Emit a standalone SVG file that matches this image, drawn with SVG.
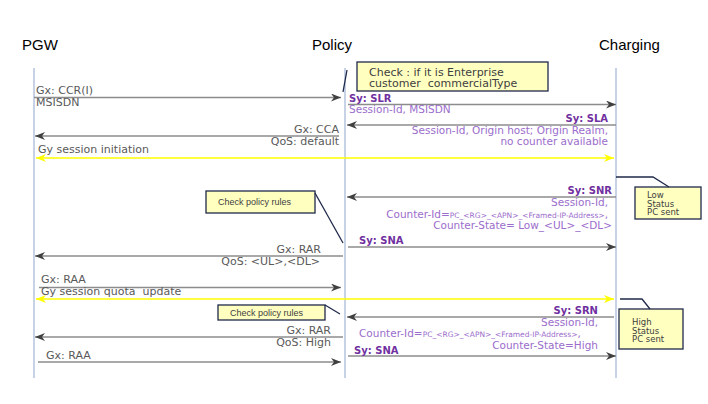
<svg xmlns="http://www.w3.org/2000/svg" width="708" height="404" viewBox="0 0 708 404">
<defs>
<marker id="ah" viewBox="0 0 10 8" refX="10" refY="4" markerWidth="10" markerHeight="8" markerUnits="userSpaceOnUse" orient="auto">
<path d="M0,0 L10,4 L0,8 L3,4 z" fill="#404040"/>
</marker>
<marker id="yh" viewBox="0 0 10 8" refX="10" refY="4" markerWidth="10" markerHeight="8" markerUnits="userSpaceOnUse" orient="auto-start-reverse">
<path d="M0,0 L10,4 L0,8 L3,4 z" fill="#ffff00"/>
</marker>
<style>
.hdr{font-family:"Liberation Sans",Arial,sans-serif;font-size:15px;fill:#000}
.life{stroke:#b4c3de;stroke-width:1.5;fill:none}
.msg{stroke:#8c8c8c;stroke-width:1.3;fill:none;marker-end:url(#ah)}
.gy{stroke:#ffff00;stroke-width:1.6;fill:none;marker-start:url(#yh);marker-end:url(#yh)}
.lbl{font-family:"DejaVu Sans",Verdana,sans-serif;font-size:11px;fill:#595959}
.sy{font-family:"DejaVu Sans",Verdana,sans-serif;font-size:10px;font-weight:bold;fill:#7030a0}
.syt{font-family:"DejaVu Sans",Verdana,sans-serif;font-size:10.5px;fill:#9b6dcc}
.sm{font-size:7.5px}
.note{fill:#ffffc0;stroke:#1f2a4a;stroke-width:1.3}
.call{stroke:#1f2a4a;stroke-width:1.3;fill:none}
.ntxt{font-family:"DejaVu Sans",Verdana,sans-serif;font-size:11px;fill:#404040;white-space:pre}
.nsm{font-family:"Liberation Sans",Arial,sans-serif;font-size:9px;fill:#404040}
.nst{font-family:"DejaVu Sans",Verdana,sans-serif;font-size:8.5px;fill:#404040}
.e{text-anchor:end}
.pre{white-space:pre}
</style>
</defs>

<g id="pgw">
<text class="hdr" x="22" y="50">PGW</text>
<line class="life" x1="34" y1="68" x2="34" y2="378"/>
</g>
<g id="policy">
<text class="hdr" x="312" y="50">Policy</text>
<line class="life" x1="345" y1="68" x2="345" y2="378"/>
</g>
<g id="charging">
<text class="hdr" x="599" y="50">Charging</text>
<line class="life" x1="616" y1="68" x2="616" y2="378"/>
</g>

<g id="note-enterprise">
<rect class="note" x="357" y="62" width="191" height="29"/>
<line class="call" x1="347" y1="70" x2="343" y2="92"/>
<text class="ntxt" x="369" y="75.5">Check : if it is Enterprise</text>
<text class="ntxt" x="369" y="87">customer  commercialType</text>
</g>

<g id="note-policy1">
<rect class="note" x="206" y="191" width="109" height="22"/>
<line class="call" x1="315" y1="193" x2="343" y2="243"/>
<text class="nsm" x="218" y="205">Check policy rules</text>
</g>

<g id="note-low">
<rect class="note" x="635" y="187" width="66" height="32"/>
<polyline class="call" points="616,177 653,177 669,187"/>
<text class="nst" x="647" y="198">Low</text>
<text class="nst" x="647" y="206.5">Status</text>
<text class="nst" x="647" y="215">PC sent</text>
</g>

<g id="note-policy2">
<rect class="note" x="218" y="305" width="107" height="15"/>
<line class="call" x1="325" y1="305" x2="340" y2="314"/>
<text class="nsm" x="230" y="315.5">Check policy rules</text>
</g>

<g id="note-high">
<rect class="note" x="619" y="309" width="64" height="40"/>
<polyline class="call" points="620,299 642,299 650,309"/>
<text class="nst" x="632" y="325">High</text>
<text class="nst" x="632" y="333.5">Status</text>
<text class="nst" x="632" y="342">PC sent</text>
</g>

<g id="connectors">
<line class="msg" x1="34" y1="97.5" x2="341" y2="97.5"/>
<line class="msg" x1="348" y1="104.5" x2="616" y2="104.5"/>
<line class="msg" x1="616" y1="125" x2="347" y2="125"/>
<line class="msg" x1="339" y1="136" x2="35" y2="136"/>
<line class="gy" x1="36" y1="158" x2="614" y2="158"/>
<line class="msg" x1="616" y1="197" x2="347" y2="197"/>
<line class="msg" x1="348" y1="247" x2="616" y2="247"/>
<line class="msg" x1="343" y1="256" x2="35" y2="256"/>
<line class="msg" x1="39" y1="287.5" x2="341" y2="287.5"/>
<line class="gy" x1="36" y1="299" x2="614" y2="299"/>
<line class="msg" x1="614" y1="317" x2="347" y2="317"/>
<line class="msg" x1="343" y1="337" x2="35" y2="337"/>
<line class="msg" x1="348" y1="356" x2="616" y2="356"/>
<line class="msg" x1="38" y1="362" x2="341" y2="362"/>
</g>

<g id="labels">
<text class="lbl" x="36" y="94">Gx: CCR(I)</text>
<text class="lbl" x="36" y="106">MSISDN</text>
<text class="sy" x="349" y="101.5">Sy: SLR</text>
<text class="syt" x="349" y="113">Session-Id, MSISDN</text>
<text class="sy e" x="608" y="122">Sy: SLA</text>
<text class="syt e" x="608" y="133.5">Session-Id, Origin host; Origin Realm,</text>
<text class="syt e" x="608" y="145">no counter available</text>
<text class="lbl e" x="339" y="133">Gx: CCA</text>
<text class="lbl e" x="339" y="144.5">QoS: default</text>
<text class="lbl" x="38" y="153">Gy session initiation</text>
<text class="sy e" x="612" y="194">Sy: SNR</text>
<text class="syt e" x="608" y="206">Session-Id,</text>
<text class="syt e" x="608" y="217.5">Counter-Id=<tspan class="sm">PC_&lt;RG&gt;_&lt;APN&gt;_&lt;Framed-IP-Address&gt;</tspan>,</text>
<text class="syt e" x="612" y="229">Counter-State= Low_&lt;UL&gt;_&lt;DL&gt;</text>
<text class="sy" x="359" y="244">Sy: SNA</text>
<text class="lbl e" x="321" y="253">Gx: RAR</text>
<text class="lbl e" x="320" y="265">QoS: &lt;UL&gt;,&lt;DL&gt;</text>
<text class="lbl" x="41" y="283">Gx: RAA</text>
<text class="lbl pre" x="41" y="295">Gy session quota  update</text>
<text class="sy e" x="598" y="313.5">Sy: SRN</text>
<text class="syt e" x="598" y="325.5">Session-Id,</text>
<text class="syt" x="359" y="337">Counter-Id=<tspan class="sm">PC_&lt;RG&gt;_&lt;APN&gt;_&lt;Framed-IP-Address&gt;</tspan>,</text>
<text class="syt e" x="598" y="348.5">Counter-State=High</text>
<text class="lbl e" x="331" y="334">Gx: RAR</text>
<text class="lbl e" x="331" y="346">QoS: High</text>
<text class="sy" x="354" y="354">Sy: SNA</text>
<text class="lbl" x="46" y="359">Gx: RAA</text>
</g>
</svg>
